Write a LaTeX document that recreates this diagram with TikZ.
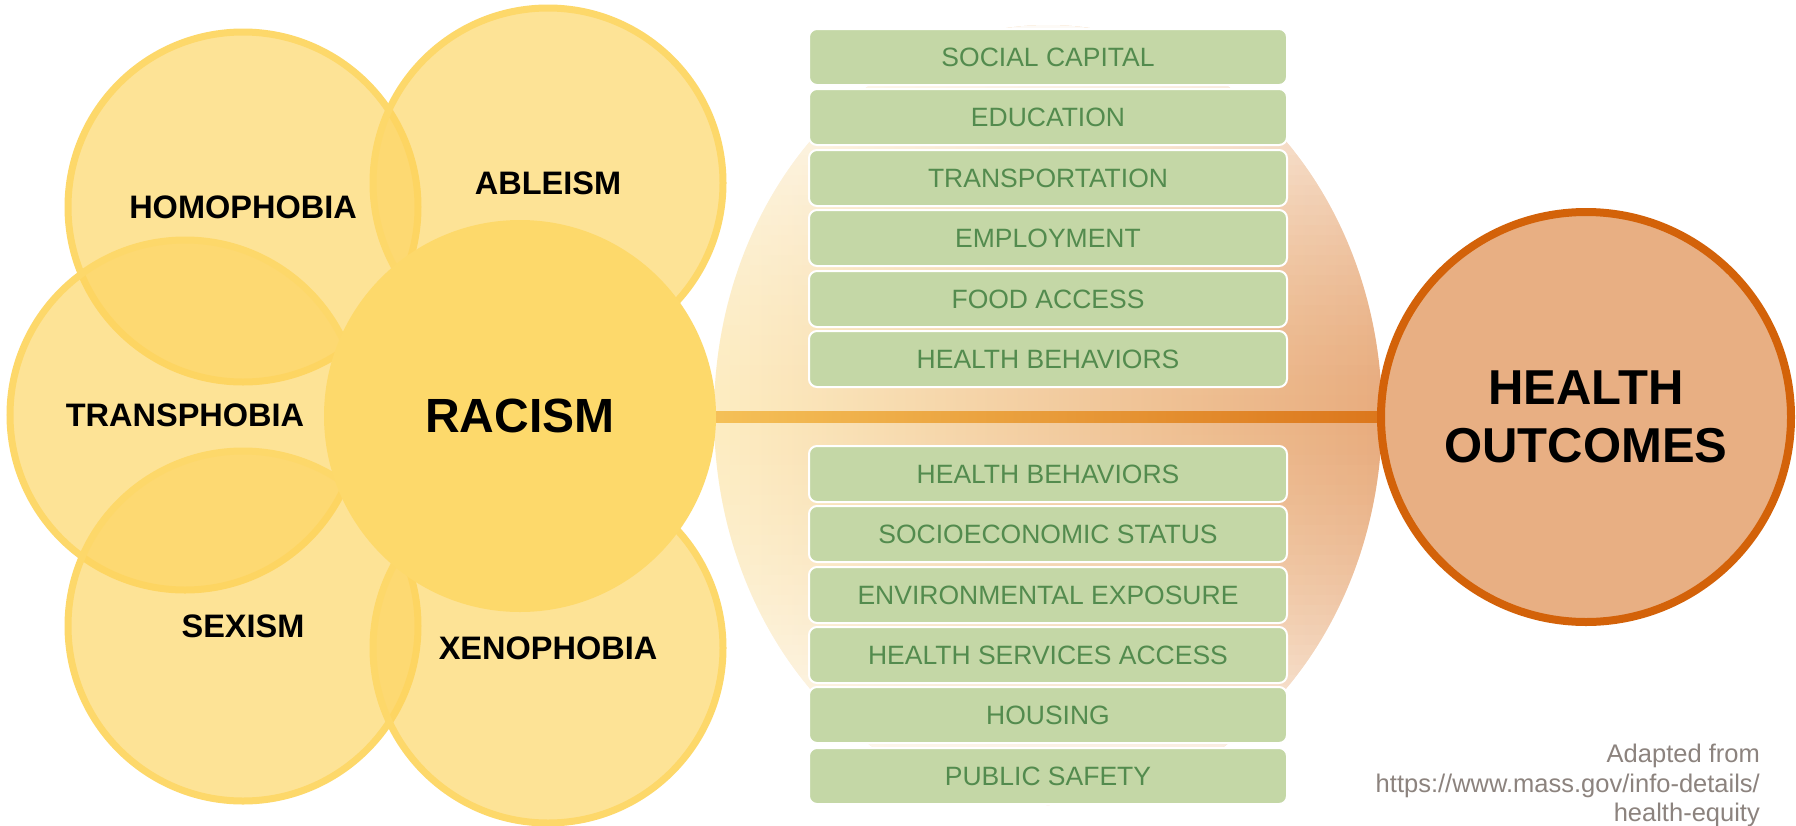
\documentclass[tikz,border=0pt]{standalone}
\usepackage{fontspec}
\setmainfont{Liberation Sans}

\definecolor{sunfill}{HTML}{FDD45F}
\definecolor{sunedge}{HTML}{FDD86A}
\definecolor{racefill}{HTML}{FDD96B}
\definecolor{boxfill}{HTML}{C4D7A6}
\definecolor{boxtext}{HTML}{538B4E}
\definecolor{outfill}{HTML}{E8AF83}
\definecolor{outedge}{HTML}{D36209}
\definecolor{warmlight}{HTML}{FDEDC2}
\definecolor{warmdark}{HTML}{E8AC7E}
\definecolor{barstart}{HTML}{FCD669}
\definecolor{barend}{HTML}{D4600A}
\definecolor{notegray}{HTML}{8C837E}

\pgfdeclarelayer{backdrop}
\pgfsetlayers{backdrop,main}

\tikzset{
  ism/.style={circle, minimum size=350pt, inner sep=0pt, outer sep=0pt,
    fill=sunfill, fill opacity=0.65, draw=sunedge, line width=7pt, text opacity=1,
    text=black, font=\bfseries\fontsize{32.5}{39}\selectfont},
  core/.style={circle, minimum size=392pt, inner sep=0pt, outer sep=0pt,
    fill=racefill, text=black, font=\bfseries\fontsize{48}{56}\selectfont},
  outcome/.style={circle, minimum size=410pt, inner sep=0pt, outer sep=0pt,
    fill=outfill, draw=outedge, line width=8pt, text=black, align=center,
    font=\bfseries\fontsize{49}{58}\selectfont},
  factor/.style={rectangle, rounded corners=8pt, minimum width=478pt, minimum height=56pt,
    inner sep=0pt, fill=boxfill, draw=white, line width=2pt, text=boxtext,
    font=\fontsize{26.5}{30}\selectfont},
  credit/.style={anchor=north east, align=right, inner sep=0pt, text=notegray,
    font=\fontsize{25.5}{29.5}\selectfont}
}

\begin{document}
\begin{tikzpicture}[x=1pt, y=-1pt]
  \useasboundingbox (0,0) rectangle (1796,825);

  % overlapping forms of oppression
  \node[ism] (homo)  at (243,207) {HOMOPHOBIA};
  \node[ism] (able)  at (548,183) {ABLEISM};
  \node[ism] (trans) at (185,415) {TRANSPHOBIA};
  \node[ism] (sex)   at (243,626) {SEXISM};
  \node[ism] (xeno)  at (548,648) {XENOPHOBIA};
  \node[core] (racism) at (520,416) {RACISM};

  % outcome
  \node[outcome] (outcome) at (1586,417) {HEALTH\\OUTCOMES};

  % social determinants, upper stack
  \node[factor] (u1) at (1048,57)  {SOCIAL CAPITAL};
  \node[factor] (u2) at (1048,117) {EDUCATION};
  \node[factor] (u3) at (1048,178) {TRANSPORTATION};
  \node[factor] (u4) at (1048,238) {EMPLOYMENT};
  \node[factor] (u5) at (1048,299) {FOOD ACCESS};
  \node[factor] (u6) at (1048,359) {HEALTH BEHAVIORS};

  % social determinants, lower stack
  \node[factor] (l1) at (1048,474) {HEALTH BEHAVIORS};
  \node[factor] (l2) at (1048,534) {SOCIOECONOMIC STATUS};
  \node[factor] (l3) at (1048,595) {ENVIRONMENTAL EXPOSURE};
  \node[factor] (l4) at (1048,655) {HEALTH SERVICES ACCESS};
  \node[factor] (l5) at (1048,715) {HOUSING};
  \node[factor] (l6) at (1048,776) {PUBLIC SAFETY};

  % page ground, warm lens behind the stacks, and the link bar
  \begin{pgfonlayer}{backdrop}
    \fill[white] (0,0) rectangle (1796,825);
    \begin{scope}
      \clip (1048,415) ellipse [x radius=334, y radius=390];
      \shade[left color=warmlight, right color=warmdark] (714,25) rectangle (1382,805);
      % white veil growing towards the top and bottom of the lens
      \foreach \k in {0,...,38} {
        \pgfmathsetmacro{\veil}{0.93*(1-(\k+0.5)/39)^1.5}
        \fill[white, fill opacity=\veil] (700,25+10*\k) rectangle (1400,35+10*\k);
        \fill[white, fill opacity=\veil] (700,805-10*\k) rectangle (1400,795-10*\k);
      }
    \end{scope}
    \shade[left color=barstart, right color=barend]
      ([yshift=5pt]racism.center) rectangle ([yshift=-5pt]outcome.center);
  \end{pgfonlayer}

  \node[credit] (src) at (1760,744)
    {Adapted from\\https://www.mass.gov/info-details/\\health-equity};
\end{tikzpicture}
\end{document}
